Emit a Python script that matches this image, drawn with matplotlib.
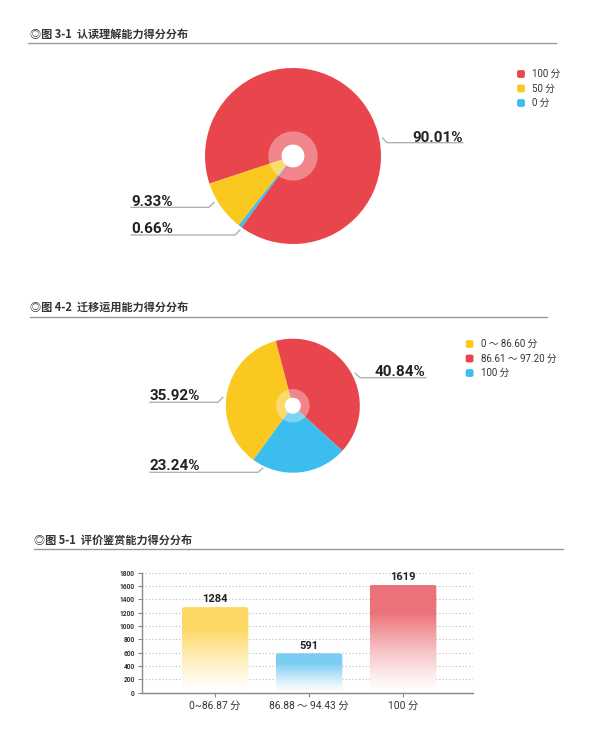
import matplotlib
matplotlib.use("Agg")
import matplotlib.pyplot as plt
import numpy as np
from matplotlib.patches import Circle, FancyBboxPatch
from matplotlib.colors import to_rgb

plt.rcParams['font.family'] = ['Roboto', 'Noto Sans CJK SC', 'DejaVu Sans']

# chart 1: reading comprehension
pie1_labels = ["100 分", "50 分", "0 分"]
pie1_values = [90.01, 9.33, 0.66]
pie1_colors = ["#E8454D", "#FAC81E", "#3BBDEE"]

# chart 2: transfer and application
pie2_labels = ["0 ～ 86.60 分", "86.61 ～ 97.20 分", "100 分"]
pie2_values = [35.92, 40.84, 23.24]
pie2_colors = ["#FAC81E", "#E8454D", "#3BBDEE"]

# chart 3: appreciation
bar_labels = ["0~86.87 分", "86.88 ～ 94.43 分", "100 分"]
bar_values = [1284, 591, 1619]
bar_colors = ["#FED866", "#7CCDF3", "#EC737A"]
y_ticks = list(range(0, 1801, 200))

titles = ["◎图 3-1  认读理解能力得分分布",
          "◎图 4-2  迁移运用能力得分分布",
          "◎图 5-1  评价鉴赏能力得分分布"]

W, H = 600, 738
fig = plt.figure(figsize=(W / 100, H / 100), dpi=100)
fig.patch.set_facecolor("white")

# overlay axes in pixel coordinates for titles, leader lines and legends
ov = fig.add_axes([0, 0, 1, 1])
ov.set_xlim(0, W)
ov.set_ylim(H, 0)
ov.axis("off")

TXT = "#222222"
LINE = "#AAAAAA"

# section titles with rules underneath
title_pos = [(30, 34, 28, 556, 43), (30, 307, 30, 547, 317), (34, 540, 34, 563, 549)]
for t, (tx, ty, x0, x1, ly) in zip(titles, title_pos):
    ov.text(tx, ty, t, fontsize=8, color="#333333", fontweight="bold",
            va="center", ha="left", family=['Noto Sans CJK SC', 'DejaVu Sans'])
    ov.plot([x0, x1], [ly, ly], color="#999999", lw=1.0)


def pie_axes(cx, cy, r):
    ax = fig.add_axes([(cx - r) / W, (H - (cy + r)) / H, 2 * r / W, 2 * r / H])
    return ax


def draw_pie(ax, values, colors, start, ccw, ring, hole):
    ax.pie(values, colors=colors, startangle=start, counterclock=ccw,
           wedgeprops=dict(linewidth=0))
    ax.add_patch(Circle((0, 0), ring, color="white", alpha=0.35, lw=0))
    ax.add_patch(Circle((0, 0), hole, color="white", lw=0))
    ax.set_xlim(-1, 1)
    ax.set_ylim(-1, 1)
    ax.set_aspect("equal")
    ax.axis("off")


def leader(text, tx, base, pts):
    xs = [p[0] for p in pts]
    ys = [p[1] for p in pts]
    ov.plot(xs, ys, color=LINE, lw=0.9)
    ov.text(tx, base, text, fontsize=11, color=TXT, fontweight="bold",
            ha="left", va="baseline")


def legend(x, y0, labels, colors):
    for i, (lab, col) in enumerate(zip(labels, colors)):
        y = y0 + i * 14.5
        ov.add_patch(FancyBboxPatch((x - 3.3, y - 3.3), 6.6, 6.6,
                                    boxstyle="round,pad=0.6,rounding_size=2",
                                    color=col, lw=0))
        ov.text(x + 11, y, lab, fontsize=7, color="#333333",
                va="center", ha="left")


# pie 1
ax1 = pie_axes(293, 156, 88)
start1 = 198.3 - pie1_values[0] * 3.6
draw_pie(ax1, pie1_values, pie1_colors, start1, True, 0.28, 0.13)
leader(f"{pie1_values[0]:.2f}%", 412, 141.5,
       [(382.5, 138), (387, 142.7), (463, 142.7)])
leader(f"{pie1_values[1]:.2f}%", 131, 206,
       [(214, 202.5), (209, 207.3), (131, 207.3)])
leader(f"{pie1_values[2]:.2f}%", 131, 233.3,
       [(240, 230), (235, 235), (131, 235)])
legend(521, 74, pie1_labels, pie1_colors)

# pie 2
ax2 = pie_axes(292.8, 405.7, 67)
draw_pie(ax2, pie2_values, pie2_colors, 234, False, 0.25, 0.12)
leader(f"{pie2_values[1]:.2f}%", 375, 375.5,
       [(355, 373), (360, 377.7), (426, 377.7)])
leader(f"{pie2_values[0]:.2f}%", 150, 400,
       [(222.7, 397.3), (218, 402.3), (150, 402.3)])
leader(f"{pie2_values[2]:.2f}%", 150, 470,
       [(262.7, 468.3), (258, 472.3), (150, 472.3)])
legend(469.6, 344, pie2_labels, pie2_colors)

# bar chart
ax3 = fig.add_axes([141.7 / W, (H - 692.7) / H, 331.3 / W, 120 / H])
ax3.set_xlim(-0.78, 2.745)
ax3.set_ylim(0, 1800)
ax3.set_facecolor("none")
ax3.set_yticks(y_ticks)
ax3.set_yticklabels([str(v) for v in y_ticks])
ax3.set_xticks(range(len(bar_labels)))
ax3.set_xticklabels(bar_labels)
for v in y_ticks[1:]:
    ax3.axhline(v, color="#BBBBBB", lw=0.8, ls=(0, (1, 2)), zorder=0)
for s in ["top", "right"]:
    ax3.spines[s].set_visible(False)
for s in ["left", "bottom"]:
    ax3.spines[s].set_color("#888888")
    ax3.spines[s].set_linewidth(1.0)
ax3.tick_params(axis="y", length=3, width=0.8, color="#888888", pad=2,
                labelsize=4.8, labelcolor="#333333")
ax3.tick_params(axis="x", length=3, width=0.8, color="#888888", pad=3,
                labelsize=7.4, labelcolor="#333333")
for lab in ax3.get_yticklabels():
    lab.set_fontweight("bold")

bw = 0.71
aspect = (1800 / 120) / (3.525 / 331.3)
for i, (v, c) in enumerate(zip(bar_values, bar_colors)):
    x0 = i - bw / 2
    patch = FancyBboxPatch((x0, 0), bw, v,
                           boxstyle="round,pad=0,rounding_size=0.035",
                           mutation_aspect=aspect, facecolor="none",
                           edgecolor="none")
    ax3.add_patch(patch)
    t = np.linspace(0, 1, 256)[:, None]
    k = np.clip(t * 1.35, 0, 1) ** 1.3
    rgb = np.array(to_rgb(c))
    grad = 1 - k[..., None] * (1 - rgb)[None, None, :]
    grad = np.repeat(grad, 2, axis=1)
    im = ax3.imshow(grad, extent=[x0, x0 + bw, 0, v], origin="lower",
                    aspect="auto", zorder=2, interpolation="bilinear")
    im.set_clip_path(patch)
    ax3.text(i, v + 40, str(v), ha="center", va="bottom", fontsize=8,
             fontweight="bold", color=TXT)
ax3.set_xlim(-0.78, 2.745)
ax3.set_ylim(0, 1800)

fig.savefig("out.png", dpi=100, facecolor="white")
